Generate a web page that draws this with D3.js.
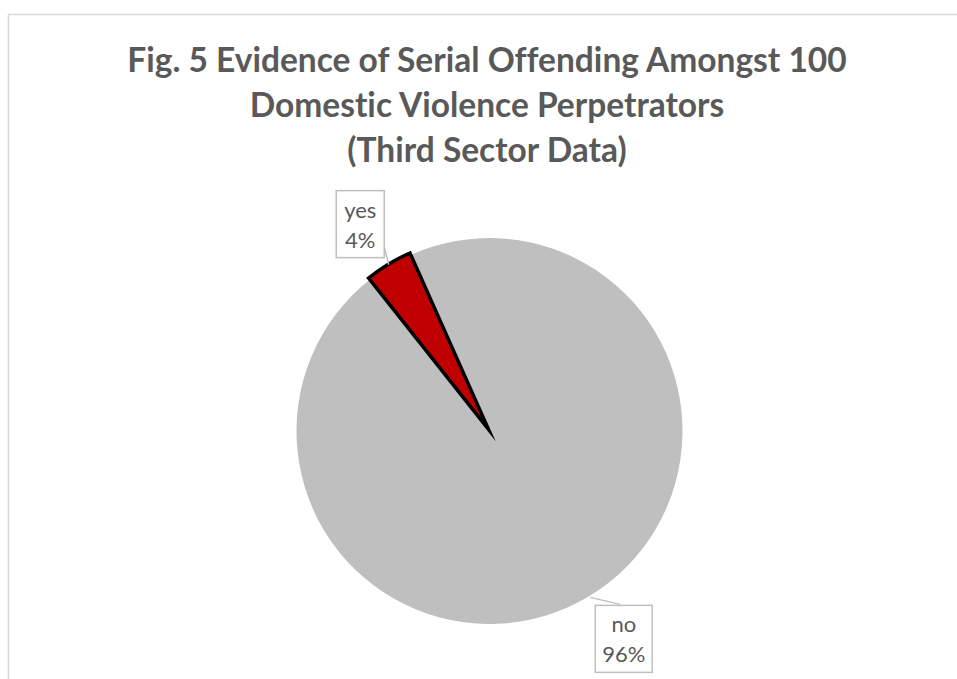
<!DOCTYPE html>
<html><head><meta charset="utf-8">
<script src="https://cdn.jsdelivr.net/npm/d3@7"></script>
<style>body{margin:0;background:#fff}svg{display:block}text{font-variant-ligatures:none;font-feature-settings:"liga" 0}</style>
</head><body>
<script>
const categories = ["yes", "no"];
const values = [4, 96];
const percentLabels = ["4%", "96%"];
const titleLines = ["Fig. 5 Evidence of Serial Offending Amongst 100", "Domestic Violence Perpetrators", "(Third Sector Data)"];
const colors = ["#c00000", "#bfbfbf"];

const W = 957, H = 679;
const svg = d3.select("body").append("svg").attr("width", W).attr("height", H);
svg.append("rect").attr("x", 8.5).attr("y", 14.5).attr("width", 1000).attr("height", 1000)
  .attr("fill", "#fff").attr("stroke", "#d9d9d9").attr("stroke-width", 1.5);

// title
const title = svg.append("g");
titleLines.forEach((t, i) => {
  title.append("text").attr("x", 487).attr("y", 72 + i * 45)
    .attr("text-anchor", "middle").attr("fill", "#595959")
    .attr("font-family", "Lato, 'Open Sans', sans-serif").attr("font-weight", 700)
    .attr("font-size", 33.5).text(t);
});

const cx = 489.5, cy = 431, R = 193;
const start = -38.4 * Math.PI / 180;
const pie = d3.pie().sort(null).value(d => d).startAngle(start).endAngle(start + 2 * Math.PI);
const arcs = pie(values);
const arc = d3.arc().innerRadius(0).outerRadius(R);
const g = svg.append("g").attr("transform", `translate(${cx},${cy})`);

// no slice
g.append("path").attr("d", arc(arcs[1])).attr("fill", colors[1]);
// yes slice exploded slightly
const a0 = arcs[0];
const mid0 = (a0.startAngle + a0.endAngle) / 2;
const ex = 2;
g.append("path").attr("d", arc(a0))
  .attr("transform", `translate(${Math.sin(mid0) * ex},${-Math.cos(mid0) * ex})`)
  .attr("fill", colors[0]).attr("stroke", "#000").attr("stroke-width", 3.5)
  .attr("stroke-linejoin", "miter").attr("stroke-miterlimit", 20);

// labels
const labelFont = "Lato, 'Open Sans', sans-serif";
const boxes = [
  {dx: -52.5, dy: -74, bw: 48, bh: 67, lx: -5, ly: -20},
  {dx: 5, dy: 8, bw: 57, bh: 67, lx: 30, ly: 7}
];
arcs.forEach((a, i) => {
  const m = (a.startAngle + a.endAngle) / 2;
  const px = cx + Math.sin(m) * (R + 1.5), py = cy - Math.cos(m) * (R + 1.5);
  const b = boxes[i];
  const bx = px + b.dx, by = py + b.dy;
  svg.append("line").attr("x1", px).attr("y1", py).attr("x2", px + b.lx).attr("y2", py + b.ly)
    .attr("stroke", "#bfbfbf").attr("stroke-width", 1.5);
  svg.append("rect").attr("x", bx).attr("y", by).attr("width", b.bw).attr("height", b.bh)
    .attr("fill", "#fff").attr("stroke", "#bfbfbf").attr("stroke-width", 1.5);
  svg.append("text").attr("x", bx + b.bw / 2).attr("y", by + 27).attr("text-anchor", "middle")
    .attr("fill", "#595959").attr("font-family", labelFont).attr("font-size", 22).text(categories[i]);
  svg.append("text").attr("x", bx + b.bw / 2).attr("y", by + 57).attr("text-anchor", "middle")
    .attr("fill", "#595959").attr("font-family", labelFont).attr("font-size", 22).text(percentLabels[i]);
});
</script>
</body></html>
